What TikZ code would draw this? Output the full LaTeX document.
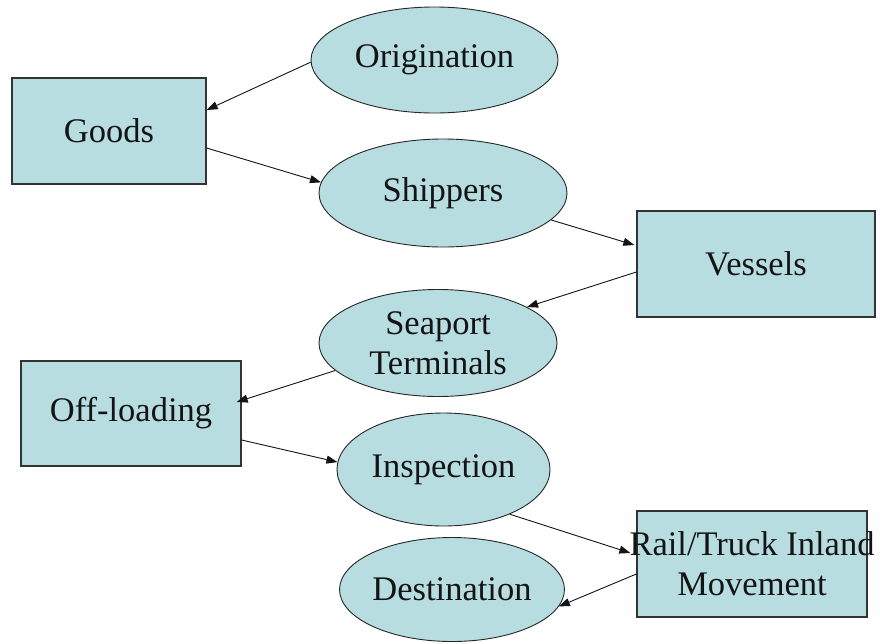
\documentclass[tikz,border=0pt]{standalone}
\usepackage{fontspec}
\setmainfont{Liberation Serif}
\usetikzlibrary{arrows.meta,shapes.geometric}
\definecolor{boxfill}{RGB}{183,221,225}
\definecolor{ink}{RGB}{20,20,20}
\begin{document}
\begin{tikzpicture}[x=1pt,y=-1pt,
  lbl/.style={font=\fontsize{34.5}{40}\selectfont, text=ink, align=center, inner sep=0pt},
  boxnode/.style={lbl, rectangle, draw=black!80, line width=1.3pt, fill=boxfill, minimum height=106pt},
  ellnode/.style={lbl, ellipse, draw=black!85, line width=0.9pt, fill=boxfill},
  conn/.style={draw=ink, line width=0.9pt, -{Triangle[length=11pt,width=8pt]}}]
\useasboundingbox (0,0) rectangle (880,643);
\fill[white] (0,0) rectangle (880,643);

\node[ellnode, minimum width=247pt, minimum height=106pt] (orig) at (434.5,60) {Origination};
\node[boxnode, minimum width=194pt] (goods) at (109,131) {Goods};
\node[ellnode, minimum width=248pt, minimum height=108pt] (ship) at (443,193) {Shippers};
\node[boxnode, minimum width=238pt] (vess) at (756,264) {Vessels};
\node[ellnode, minimum width=238pt, minimum height=107pt] (sea) at (438,343) {Seaport\\Terminals};
\node[boxnode, minimum width=220pt, minimum height=105pt] (off) at (131,413.5) {Off-loading};
\node[ellnode, minimum width=213pt, minimum height=113pt] (insp) at (443.5,469.5) {Inspection};
\node[boxnode, minimum width=230pt] (rail) at (752,564) {\makebox[200pt][c]{Rail/Truck Inland}\\Movement};
\node[ellnode, minimum width=212pt, minimum height=104pt] (dest) at (452,589.5) {Destination};

\draw[conn] (orig.181) -- ([yshift=21pt]goods.east);
\draw[conn] ([yshift=-17pt]goods.east) -- (ship.175);
\draw[conn] (ship.346) -- ([yshift=19pt,xshift=-2pt]vess.west);
\draw[conn] ([yshift=-8pt]vess.west) -- (sea.22);
\draw[conn] (sea.195) -- ([yshift=11.5pt,xshift=-5pt]off.east);
\draw[conn] ([yshift=-26.5pt]off.east) -- (insp.176);
\draw[conn] (insp.326) -- ([yshift=11pt,xshift=-6pt]rail.west);
\draw[conn] ([yshift=-10pt]rail.west) -- (dest.351);
\end{tikzpicture}
\end{document}
